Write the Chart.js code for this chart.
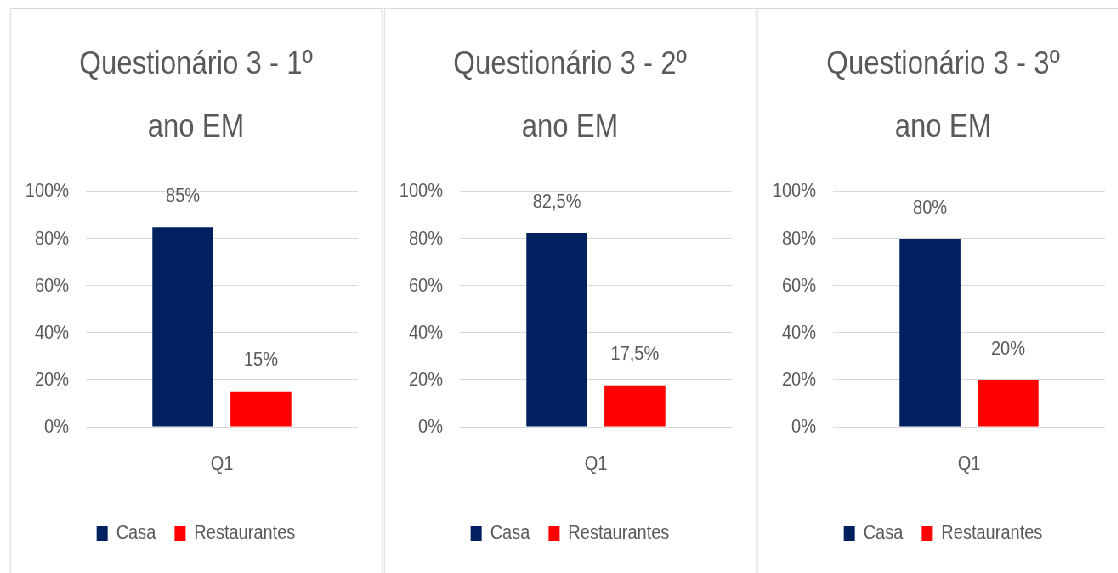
<!DOCTYPE html>
<html>
<head>
<meta charset="utf-8">
<script src="https://cdn.jsdelivr.net/npm/chart.js@4"></script>
<style>
  html, body { margin: 0; padding: 0; background: #fff; overflow: hidden; }
  #wrap {
    position: absolute; left: 0; top: 0;
    width: 1316px; height: 573px;
    transform: scaleX(0.85); transform-origin: 0 0;
  }
  .panel {
    position: absolute; top: 8px;
    width: 438px; height: 600px;
    border: 1px solid #d9d9d9; box-sizing: border-box;
    background: #fff; overflow: hidden;
  }
  .panel canvas { position: absolute; left: 0; top: 0; }
</style>
</head>
<body>
<div id="wrap"></div>
<script>
// data
const titles = [
  ["Questionário 3 - 1º", "ano EM"],
  ["Questionário 3 - 2º", "ano EM"],
  ["Questionário 3 - 3º", "ano EM"]
];
const categories = ["Q1"];
const seriesNames = ["Casa", "Restaurantes"];
const casa = [85, 82.5, 80];
const restaurantes = [15, 17.5, 20];
const yTicks = [0, 20, 40, 60, 80, 100];

const SCALE = 0.85;
const panelLeft = [10, 384, 757];
const colors = ["#002060", "#ff0000"];
const textColor = "#595959";

Chart.defaults.font.family = "'Liberation Sans', Arial, sans-serif";
Chart.defaults.color = textColor;

const fmt = v => String(v).replace(".", ",") + "%";

const valueLabels = {
  id: "valueLabels",
  afterDatasetsDraw(chart) {
    const ctx = chart.ctx;
    ctx.save();
    ctx.font = "20px 'Liberation Sans', Arial, sans-serif";
    ctx.fillStyle = textColor;
    ctx.textAlign = "center";
    ctx.textBaseline = "middle";
    chart.data.datasets.forEach((ds, i) => {
      chart.getDatasetMeta(i).data.forEach((bar, j) => {
        ctx.fillText(fmt(ds.data[j]), bar.x, bar.y - 31);
      });
    });
    ctx.restore();
  }
};

const wrap = document.getElementById("wrap");

titles.forEach((title, p) => {
  const div = document.createElement("div");
  div.className = "panel";
  div.style.left = (panelLeft[p] / SCALE) + "px";
  const canvas = document.createElement("canvas");
  canvas.width = 440;
  canvas.height = 564;
  div.appendChild(canvas);
  wrap.appendChild(div);

  new Chart(canvas, {
    type: "bar",
    data: {
      labels: categories,
      datasets: [
        { label: seriesNames[0], data: [casa[p]], backgroundColor: colors[0] },
        { label: seriesNames[1], data: [restaurantes[p]], backgroundColor: colors[1] }
      ]
    },
    options: {
      responsive: false,
      animation: false,
      devicePixelRatio: 1,
      datasets: { bar: { categoryPercentage: 0.574, barPercentage: 0.78 } },
      layout: { padding: { left: 0, right: 5, top: 0, bottom: 19.5 } },
      scales: {
        x: {
          grid: { display: false },
          border: { display: false },
          ticks: { padding: 17, font: { size: 20 }, color: textColor },
          afterFit(scale) { scale.height = 74.5; }
        },
        y: {
          min: 0,
          max: 100,
          afterBuildTicks(scale) { scale.ticks = yTicks.map(v => ({ value: v })); },
          grid: { color: "#d9d9d9", lineWidth: 1, drawTicks: false },
          border: { display: false },
          ticks: {
            padding: 20,
            font: { size: 20 },
            color: textColor,
            callback: v => v + "%"
          },
          afterFit(scale) { scale.width = 88; }
        },
        // empty spacer on the right so title and legend stay centred in the panel
        yRight: {
          position: "right",
          grid: { display: false, drawTicks: false },
          border: { display: false },
          ticks: { display: false },
          afterFit(scale) { scale.width = 27; }
        }
      },
      plugins: {
        title: {
          display: true,
          text: title,
          color: textColor,
          font: { size: 33, weight: "normal", lineHeight: 1.924 },
          padding: { top: 23.75, bottom: 32.25 }
        },
        legend: {
          position: "bottom",
          labels: {
            boxWidth: 13,
            boxHeight: 15,
            padding: 22,
            color: textColor,
            font: { size: 20 }
          }
        },
        tooltip: { enabled: false }
      }
    },
    plugins: [valueLabels]
  });
});
</script>
</body>
</html>
